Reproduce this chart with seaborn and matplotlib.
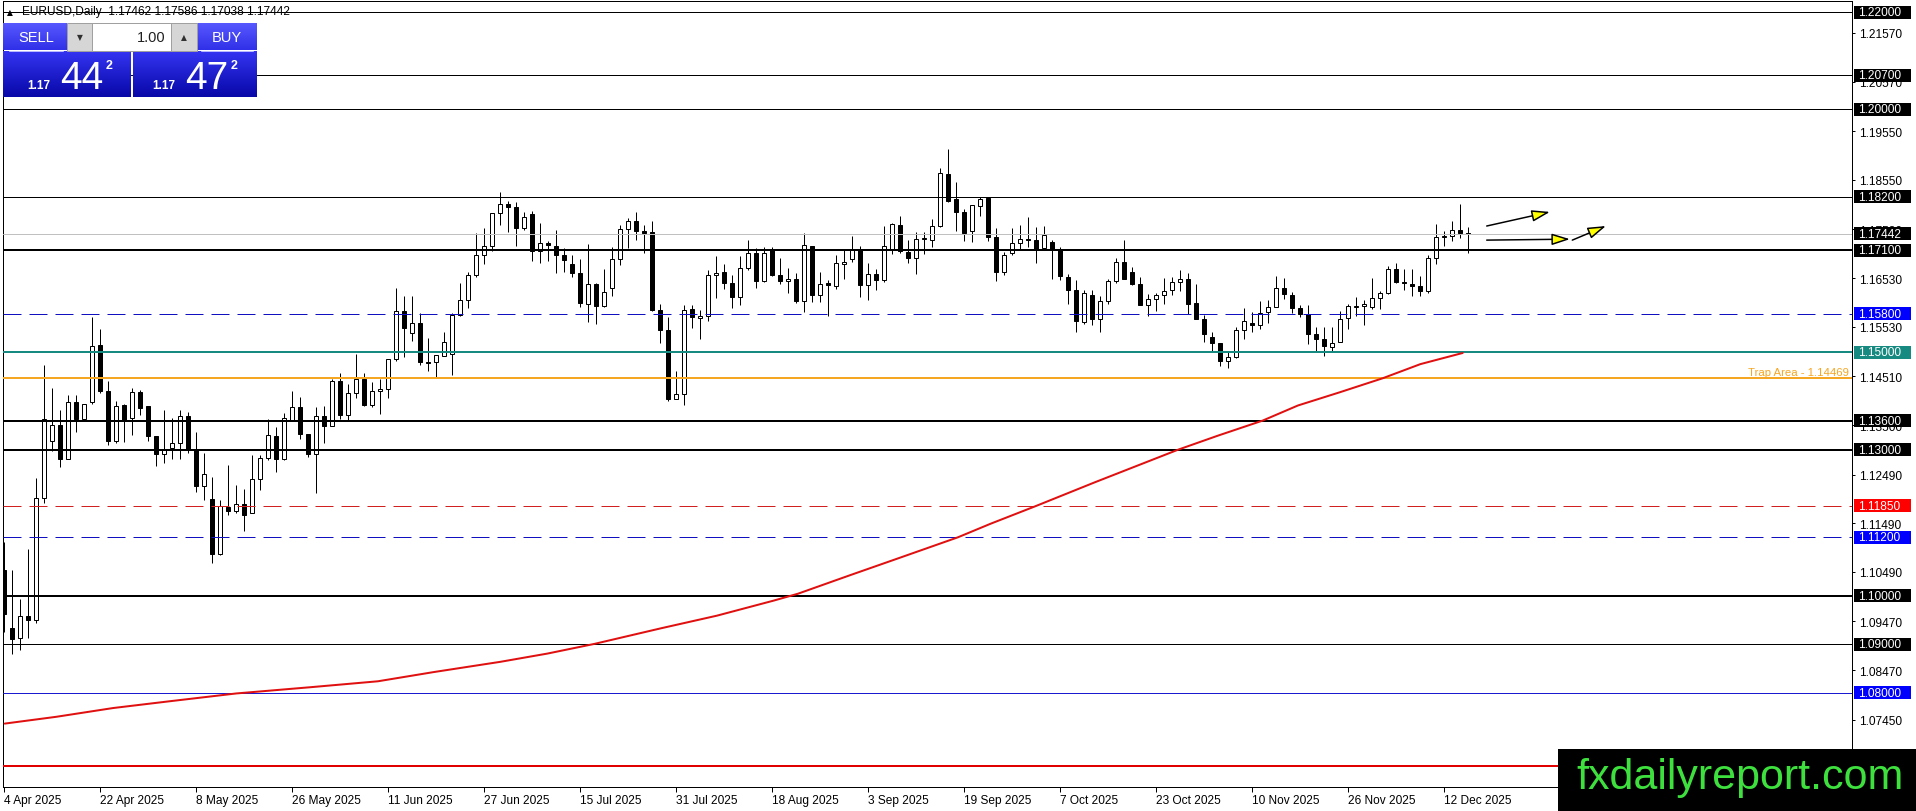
import numpy as np
import pandas as pd
import matplotlib
matplotlib.use("Agg")
import matplotlib.pyplot as plt
import matplotlib.transforms as mtransforms
from matplotlib.patches import Rectangle
from matplotlib.colors import LinearSegmentedColormap
import seaborn as sns

# ---- EURUSD daily candles, 4 Apr 2025 .. 17 Dec 2025 ----
opens = [
    1.1053, 1.0933, 1.0912, 1.0958, 1.0949, 1.1201, 1.1318, 1.1350, 1.1282, 1.1398,
    1.1364, 1.1398, 1.1516, 1.1421, 1.1317, 1.1391, 1.1365, 1.1419, 1.1389, 1.1328,
    1.1291, 1.1303, 1.1314, 1.1369, 1.1299, 1.1225, 1.1199, 1.1085, 1.1183, 1.1174,
    1.1188, 1.1170, 1.1240, 1.1283, 1.1329, 1.1280, 1.1362, 1.1387, 1.1333, 1.1291,
    1.1369, 1.1348, 1.1442, 1.1371, 1.1417, 1.1445, 1.1393, 1.1421, 1.1425, 1.1486,
    1.1585, 1.1541, 1.1561, 1.1480, 1.1480, 1.1493, 1.1497, 1.1578, 1.1607, 1.1659,
    1.1700, 1.1719, 1.1787, 1.1805, 1.1799, 1.1756, 1.1784, 1.1709, 1.1725, 1.1719,
    1.1701, 1.1681, 1.1664, 1.1600, 1.1640, 1.1596, 1.1633, 1.1693, 1.1754, 1.1771,
    1.1750, 1.1748, 1.1588, 1.1546, 1.1405, 1.1414, 1.1590, 1.1571, 1.1575, 1.1659,
    1.1666, 1.1642, 1.1614, 1.1674, 1.1705, 1.1646, 1.1712, 1.1660, 1.1646, 1.1651,
    1.1605, 1.1719, 1.1618, 1.1643, 1.1637, 1.1682, 1.1692, 1.1712, 1.1638, 1.1662,
    1.1648, 1.1712, 1.1763, 1.1707, 1.1694, 1.1733, 1.1732, 1.1760, 1.1866, 1.1815,
    1.1789, 1.1749, 1.1801, 1.1817, 1.1738, 1.1666, 1.1705, 1.1726, 1.1734, 1.1732,
    1.1715, 1.1727, 1.1712, 1.1655, 1.1628, 1.1563, 1.1619, 1.1568, 1.1605, 1.1647,
    1.1686, 1.1666, 1.1640, 1.1598, 1.1609, 1.1618, 1.1628, 1.1645, 1.1651, 1.1602,
    1.1568, 1.1532, 1.1519, 1.1482, 1.1491, 1.1546, 1.1561, 1.1557, 1.1584, 1.1594,
    1.1633, 1.1619, 1.1592, 1.1580, 1.1539, 1.1528, 1.1511, 1.1521, 1.1570, 1.1594,
    1.1596, 1.1594, 1.1611, 1.1622, 1.1671, 1.1645, 1.1640, 1.1637, 1.1626, 1.1694,
    1.1738, 1.1740, 1.1751, 1.17462]
highs = [
    1.1110, 1.1052, 1.0993, 1.1096, 1.1242, 1.1475, 1.1427, 1.1381, 1.1413, 1.1412,
    1.1395, 1.1573, 1.1549, 1.1441, 1.1400, 1.1395, 1.1426, 1.1422, 1.1389, 1.1328,
    1.1382, 1.1365, 1.1382, 1.1378, 1.1336, 1.1294, 1.1244, 1.1196, 1.1268, 1.1228,
    1.1220, 1.1290, 1.1290, 1.1364, 1.1347, 1.1376, 1.1420, 1.1408, 1.1333, 1.1387,
    1.1390, 1.1446, 1.1457, 1.1436, 1.1496, 1.1458, 1.1439, 1.1446, 1.1486, 1.1633,
    1.1616, 1.1616, 1.1581, 1.1530, 1.1494, 1.1543, 1.1581, 1.1643, 1.1666, 1.1746,
    1.1755, 1.1787, 1.1830, 1.1811, 1.1810, 1.1789, 1.1791, 1.1766, 1.1730, 1.1751,
    1.1714, 1.1700, 1.1693, 1.1723, 1.1643, 1.1672, 1.1717, 1.1762, 1.1777, 1.1789,
    1.1763, 1.1771, 1.1599, 1.1573, 1.1462, 1.1598, 1.1597, 1.1587, 1.1669, 1.1699,
    1.1681, 1.1659, 1.1698, 1.1732, 1.1715, 1.1716, 1.1717, 1.1694, 1.1674, 1.1664,
    1.1745, 1.1719, 1.1666, 1.1650, 1.1700, 1.1710, 1.1739, 1.1719, 1.1683, 1.1671,
    1.1760, 1.1767, 1.1781, 1.1732, 1.1747, 1.1747, 1.1775, 1.1880, 1.1919, 1.1850,
    1.1796, 1.1804, 1.1819, 1.1819, 1.1755, 1.1707, 1.1755, 1.1762, 1.1779, 1.1758,
    1.1760, 1.1731, 1.1717, 1.1661, 1.1648, 1.1629, 1.1629, 1.1616, 1.1652, 1.1694,
    1.1731, 1.1676, 1.1655, 1.1621, 1.1623, 1.1653, 1.1655, 1.1670, 1.1664, 1.1640,
    1.1578, 1.1542, 1.1519, 1.1500, 1.1552, 1.1592, 1.1583, 1.1606, 1.1607, 1.1657,
    1.1654, 1.1624, 1.1598, 1.1598, 1.1552, 1.1552, 1.1552, 1.1585, 1.1600, 1.1614,
    1.1607, 1.1654, 1.1626, 1.1678, 1.1683, 1.1672, 1.1672, 1.1657, 1.1701, 1.1765,
    1.1750, 1.1770, 1.1806, 1.17586]
lows = [
    1.0925, 1.0881, 1.0889, 1.0914, 1.0943, 1.1190, 1.1297, 1.1264, 1.1280, 1.1336,
    1.1360, 1.1395, 1.1417, 1.1309, 1.1314, 1.1316, 1.1330, 1.1371, 1.1317, 1.1266,
    1.1273, 1.1282, 1.1280, 1.1294, 1.1213, 1.1196, 1.1067, 1.1083, 1.1165, 1.1170,
    1.1133, 1.1170, 1.1218, 1.1278, 1.1255, 1.1278, 1.1360, 1.1323, 1.1285, 1.1211,
    1.1314, 1.1348, 1.1364, 1.1362, 1.1406, 1.1390, 1.1388, 1.1373, 1.1406, 1.1482,
    1.1490, 1.1523, 1.1475, 1.1462, 1.1449, 1.1493, 1.1453, 1.1576, 1.1592, 1.1655,
    1.1681, 1.1708, 1.1762, 1.1748, 1.1719, 1.1751, 1.1688, 1.1684, 1.1689, 1.1664,
    1.1666, 1.1655, 1.1594, 1.1563, 1.1559, 1.1594, 1.1616, 1.1679, 1.1714, 1.1731,
    1.1705, 1.1585, 1.1520, 1.1400, 1.1405, 1.1391, 1.1550, 1.1527, 1.1564, 1.1612,
    1.1630, 1.1592, 1.1598, 1.1670, 1.1633, 1.1644, 1.1657, 1.1640, 1.1622, 1.1602,
    1.1583, 1.1604, 1.1604, 1.1575, 1.1630, 1.1651, 1.1686, 1.1614, 1.1607, 1.1629,
    1.1645, 1.1703, 1.1705, 1.1684, 1.1661, 1.1702, 1.1717, 1.1757, 1.1810, 1.1750,
    1.1729, 1.1727, 1.1780, 1.1729, 1.1646, 1.1659, 1.1701, 1.1712, 1.1716, 1.1683,
    1.1714, 1.1652, 1.1648, 1.1599, 1.1542, 1.1559, 1.1556, 1.1543, 1.1600, 1.1642,
    1.1651, 1.1638, 1.1597, 1.1576, 1.1585, 1.1600, 1.1618, 1.1626, 1.1580, 1.1568,
    1.1521, 1.1504, 1.1473, 1.1469, 1.1489, 1.1528, 1.1542, 1.1548, 1.1561, 1.1594,
    1.1609, 1.1582, 1.1573, 1.1518, 1.1504, 1.1493, 1.1504, 1.1521, 1.1548, 1.1576,
    1.1556, 1.1590, 1.1590, 1.1621, 1.1642, 1.1628, 1.1616, 1.1616, 1.1622, 1.1681,
    1.1719, 1.1729, 1.1736, 1.17038]
closes = [
    1.0962, 1.0911, 1.0958, 1.0949, 1.1201, 1.1364, 1.1351, 1.1280, 1.1398, 1.1364,
    1.1395, 1.1513, 1.1420, 1.1317, 1.1390, 1.1360, 1.1419, 1.1386, 1.1328, 1.1291,
    1.1299, 1.1314, 1.1369, 1.1301, 1.1225, 1.1250, 1.1085, 1.1184, 1.1174, 1.1188,
    1.1165, 1.1240, 1.1283, 1.1331, 1.1280, 1.1365, 1.1387, 1.1332, 1.1291, 1.1369,
    1.1349, 1.1442, 1.1371, 1.1417, 1.1445, 1.1393, 1.1421, 1.1425, 1.1486, 1.1585,
    1.1550, 1.1561, 1.1480, 1.1478, 1.1494, 1.1521, 1.1578, 1.1607, 1.1659, 1.1700,
    1.1718, 1.1787, 1.1805, 1.1799, 1.1755, 1.1779, 1.1709, 1.1725, 1.1720, 1.1700,
    1.1690, 1.1664, 1.1602, 1.1640, 1.1596, 1.1624, 1.1693, 1.1754, 1.1771, 1.1750,
    1.1745, 1.1588, 1.1546, 1.1405, 1.1414, 1.1587, 1.1572, 1.1575, 1.1659, 1.1664,
    1.1643, 1.1614, 1.1674, 1.1705, 1.1646, 1.1705, 1.1659, 1.1646, 1.1651, 1.1605,
    1.1720, 1.1618, 1.1641, 1.1639, 1.1683, 1.1686, 1.1712, 1.1638, 1.1662, 1.1648,
    1.1719, 1.1764, 1.1708, 1.1694, 1.1733, 1.1736, 1.1760, 1.1868, 1.1811, 1.1789,
    1.1746, 1.1804, 1.1815, 1.1738, 1.1666, 1.1700, 1.1726, 1.1733, 1.1732, 1.1712,
    1.1741, 1.1712, 1.1657, 1.1628, 1.1564, 1.1622, 1.1568, 1.1605, 1.1647, 1.1686,
    1.1651, 1.1640, 1.1598, 1.1609, 1.1618, 1.1626, 1.1645, 1.1651, 1.1600, 1.1568,
    1.1539, 1.1519, 1.1482, 1.1491, 1.1546, 1.1565, 1.1557, 1.1582, 1.1594, 1.1633,
    1.1620, 1.1592, 1.1580, 1.1539, 1.1527, 1.1513, 1.1519, 1.1568, 1.1596, 1.1596,
    1.1600, 1.1611, 1.1622, 1.1672, 1.1645, 1.1643, 1.1637, 1.1626, 1.1694, 1.1738,
    1.1740, 1.1751, 1.1746, 1.17442]

# moving average (red curve): bar index / price
ma_bar = [0.15, 6.6, 13.7, 20.8, 29.1, 38.5, 46.8, 53.8, 62.1, 68.0, 73.9, 82.2,
          89.2, 96.3, 99.3, 105.8, 111.7, 119.3, 123.4, 129.0, 136.4, 142.3, 146.8,
          151.8, 157.4, 161.8, 167.0, 172.4, 177.1, 182.4]
ma_val = [1.0737, 1.0751, 1.0769, 1.0783, 1.0799, 1.0812, 1.0824, 1.0843, 1.0864,
          1.0881, 1.0901, 1.0933, 1.0959, 1.0990, 1.1004, 1.1042, 1.1076, 1.1120,
          1.1148, 1.1184, 1.1233, 1.1271, 1.1300, 1.1329, 1.1360, 1.1391, 1.1418,
          1.1447, 1.1476, 1.1499]

# horizontal levels and their right-hand price boxes
levels = [1.22, 1.207, 1.20, 1.182, 1.17442, 1.171, 1.158, 1.15, 1.14469,
          1.136, 1.13, 1.1185, 1.112, 1.10, 1.09, 1.08, 1.065]
level_labels = ["1.22000", "1.20700", "1.20000", "1.18200", "1.17442", "1.17100",
                "1.15800", "1.15000", None, "1.13600", "1.13000", "1.11850",
                "1.11200", "1.10000", "1.09000", "1.08000", None]
scale_ticks = [1.2157, 1.2057, 1.1955, 1.1855, 1.1753, 1.1653, 1.1553, 1.1451,
               1.1350, 1.1249, 1.1149, 1.1049, 1.0947, 1.0847, 1.0745]
trap_text = "Trap Area - 1.14469"
title_text = "EURUSD,Daily  1.17462 1.17586 1.17038 1.17442"
bid_text = ("1.17", "44", "2")
ask_text = ("1.17", "47", "2")
lot_text = "1.00"

# drawn arrows (tail -> head), in bar index / price
arrow_tail = [(185.4, 1.1760), (185.4, 1.1731), (196.1, 1.1731)]
arrow_head = [(193.3, 1.1789), (195.8, 1.1733), (200.3, 1.1760)]

# ---- styles ----
PX = 0.72  # points per pixel at 100 dpi
thin, thick = 1.0 * PX, 2.0 * PX
dash = (0, (18, 8))
level_style = {
    1.22: ("black", thin, "-"), 1.207: ("black", thin, "-"), 1.20: ("black", thin, "-"),
    1.182: ("black", thin, "-"), 1.17442: ("#c0c0c0", thin, "-"), 1.171: ("black", thick, "-"),
    1.158: ("#1010c0", thin, dash), 1.15: ("#168a80", thick, "-"), 1.14469: ("#f5a623", thick, "-"),
    1.136: ("black", thick, "-"), 1.13: ("black", thick, "-"), 1.1185: ("#d02020", thin, dash),
    1.112: ("#1010c0", thin, dash), 1.10: ("black", thick, "-"), 1.09: ("black", thin, "-"),
    1.08: ("#1a1ad0", thin, "-"), 1.065: ("#e00000", thick, "-"),
}
box_color = {1.158: "#0000ff", 1.112: "#0000ff", 1.08: "#0000ff",
             1.15: "#168a80", 1.1185: "#ff0000"}

sns.set_style("white")
plt.rcParams["font.family"] = ["Liberation Sans", "DejaVu Sans"]

W, H = 1916, 812
fig = plt.figure(figsize=(W / 100, H / 100), dpi=100)
fig.patch.set_facecolor("white")

# plot frame in pixels
fx0, fx1, fy0, fy1 = 3, 1852, 2, 788
ax = fig.add_axes([fx0 / W, 1 - fy1 / H, (fx1 - fx0) / W, (fy1 - fy0) / H])
ppu = 4864.0  # pixels per price unit
ax.set_xlim((fx0 - 3.5) / 8, (fx1 - 3.5) / 8)
ax.set_ylim(1.22 - (fy1 - 13) / ppu, 1.22 + (13 - fy0) / ppu)
ax.set_facecolor("white")

o, h, l, c = map(np.array, (opens, highs, lows, closes))
idx = np.arange(len(o))

# candles
ax.vlines(idx, l, h, color="black", lw=PX, zorder=2)
for i in idx:
    bull = c[i] >= o[i]
    bottom = min(o[i], c[i])
    height = max(abs(c[i] - o[i]), 0.00008)
    ax.add_patch(Rectangle((i - 0.25, bottom), 0.5, height,
                           fc="white" if bull else "black", ec="black",
                           lw=PX, zorder=3))

# moving average
sns.lineplot(x=ma_bar, y=ma_val, ax=ax, color="#e01010", lw=thick, zorder=5)

# horizontal levels
for lv in levels:
    col, lw, ls = level_style[lv]
    ax.axhline(lv, color=col, lw=lw, ls=ls, zorder=4)

# price boxes on the right scale
trans = mtransforms.blended_transform_factory(ax.transAxes, ax.transData)
span = fx1 - fx0
bx0 = (1854 - fx0) / span
bw = (1911 - 1854) / span
bh = 13 / ppu
for lv, lab in zip(levels, level_labels):
    if lab is None:
        continue
    ax.add_patch(Rectangle((bx0, lv - bh / 2), bw, bh, transform=trans,
                           fc=box_color.get(lv, "black"), ec="none",
                           clip_on=False, zorder=6))
    ax.text((1858 - fx0) / span, lv, lab, transform=trans, color="white",
            fontsize=8.6, ha="left", va="center", clip_on=False, zorder=7)

ax.text(1.0 - 3 / span, 1.14469 + 1 / ppu, trap_text, transform=trans,
        color="#f5a623", fontsize=8.2, ha="right", va="bottom", zorder=6)

# arrows
for (tx, ty), (hx, hy) in zip(arrow_tail, arrow_head):
    ax.annotate("", xy=(hx, hy), xytext=(tx, ty), annotation_clip=False,
                arrowprops=dict(arrowstyle="-|>,head_length=1.1,head_width=0.35",
                                fc="#ffff00", ec="black", lw=1.5 * PX,
                                shrinkA=0, shrinkB=0, mutation_scale=10),
                zorder=6)

# axes, ticks
for sp in ax.spines.values():
    sp.set_color("black")
    sp.set_linewidth(PX)
    sp.set_visible(True)
ax.yaxis.tick_right()
ax.set_yticks(scale_ticks)
ax.set_yticklabels([f"{v:.5f}" for v in scale_ticks])
ax.tick_params(axis="y", direction="out", length=3 * PX, width=PX, pad=4 * PX,
               labelsize=8.6, colors="black", right=True, left=False)

dates = pd.bdate_range("2025-04-04", periods=len(o))
tick_pos = idx[::12]
ax.set_xticks(tick_pos)
ax.set_xticklabels([f"{d.day} {d.strftime('%b %Y')}" for d in dates[tick_pos]],
                   ha="left")
ax.tick_params(axis="x", direction="out", length=5 * PX, width=PX, pad=2 * PX,
               labelsize=8.6, colors="black", bottom=True)
ax.set_xlabel("")
ax.set_ylabel("")
ax.grid(False)

# ---- overlay in pixel space: chart title, trade panel, watermark ----
ov = fig.add_axes([0, 0, 1, 1])
ov.patch.set_alpha(0)
ov.axis("off")

ov.text(10, 12.5, "▲", color="black", fontsize=5.5, ha="center", va="center",
        family=["DejaVu Sans"], zorder=5)
ov.text(22, 12.5, title_text, color="black", fontsize=8.6, ha="left",
        va="center", zorder=5)

def grad_box(x0, x1, y0, y1, c_top, c_bot):
    cmap = LinearSegmentedColormap.from_list("g", [c_top, c_bot])
    ov.imshow(np.linspace(0, 1, 64).reshape(-1, 1), extent=[x0, x1, y1, y0],
              cmap=cmap, aspect="auto", interpolation="bilinear", zorder=2)

# lower quote panels
grad_box(3, 131, 52, 98, "#3434f2", "#0808a8")
grad_box(133, 257, 52, 98, "#3434f2", "#0808a8")
# sell / buy buttons
grad_box(3, 67, 24, 51, "#5858ff", "#3030e8")
grad_box(197, 257, 24, 51, "#5858ff", "#3030e8")
ov.add_patch(Rectangle((67, 24), 25, 28, fc="#d6d6d6", ec="#a0a0a0", lw=PX, zorder=3))
ov.add_patch(Rectangle((92, 24), 79, 28, fc="white", ec="#a0a0a0", lw=PX, zorder=3))
ov.add_patch(Rectangle((171, 24), 26, 28, fc="#d6d6d6", ec="#a0a0a0", lw=PX, zorder=3))
ov.plot([9, 63], [51.5, 51.5], color="#b8b8ff", lw=PX, zorder=4)
ov.plot([201, 253], [51.5, 51.5], color="#b8b8ff", lw=PX, zorder=4)

ov.text(36, 38, "SELL", color="white", fontsize=10.5, ha="center", va="center", zorder=5)
ov.text(227, 38, "BUY", color="white", fontsize=10.5, ha="center", va="center", zorder=5)
ov.text(80, 38, "▼", color="#303030", fontsize=5.5, ha="center", va="center",
        family=["DejaVu Sans"], zorder=5)
ov.text(184, 38, "▲", color="#303030", fontsize=5.5, ha="center", va="center",
        family=["DejaVu Sans"], zorder=5)
ov.text(166, 38, lot_text, color="#202020", fontsize=10.5, ha="right", va="center", zorder=5)

for xs, (small, big, sup) in ((27, bid_text), (152, ask_text)):
    ov.text(xs, 89, small, color="white", fontsize=8.5, fontweight="bold",
            ha="left", va="baseline", zorder=5)
    ov.text(xs + 33, 89, big, color="white", fontsize=28, ha="left",
            va="baseline", zorder=5)
    ov.text(xs + 79, 60, sup, color="white", fontsize=9, fontweight="bold",
            ha="left", va="top", zorder=5)

# watermark
ov.add_patch(Rectangle((1558, 750), W - 1558, H - 750, fc="black", ec="none", zorder=3))
ov.text(1576, 789, "fxdailyreport.com", color="#3ee03e", fontsize=31,
        ha="left", va="baseline", zorder=4)

ov.set_xlim(0, W)
ov.set_ylim(H, 0)

fig.savefig("out.png", dpi=100)
